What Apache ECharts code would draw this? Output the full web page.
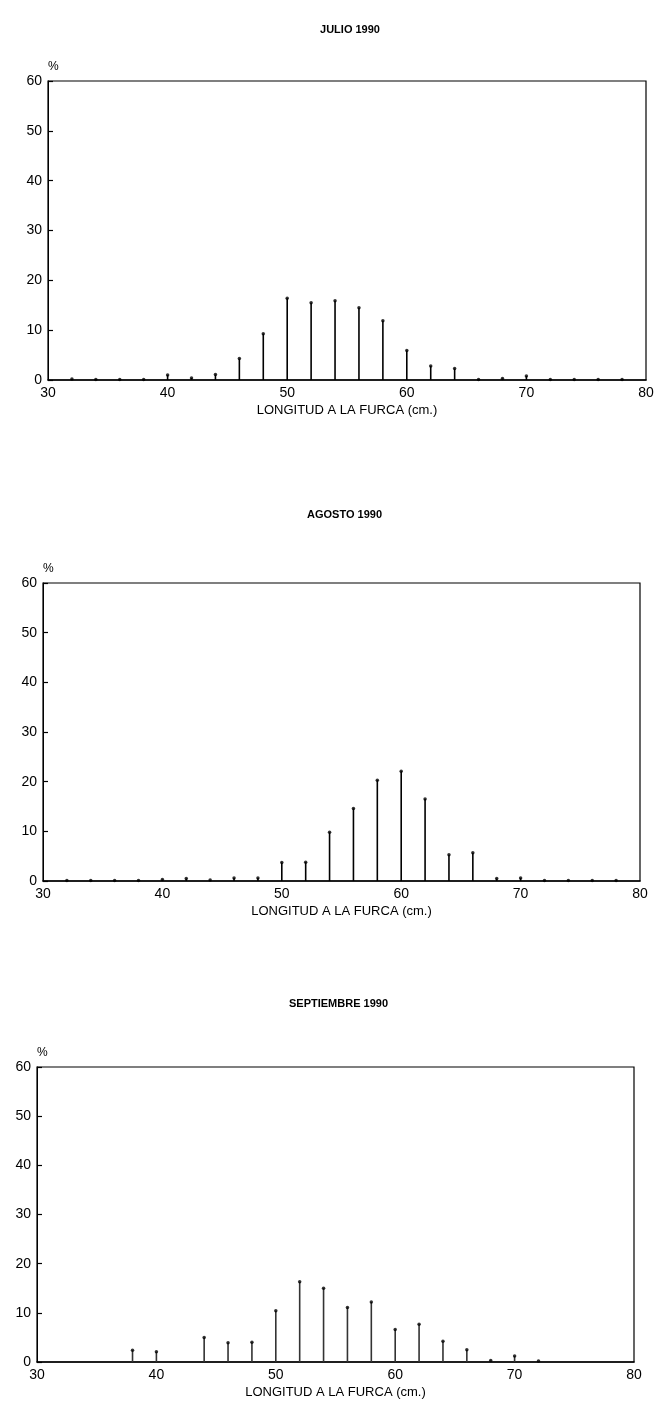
<!DOCTYPE html>
<html>
<head>
<meta charset="utf-8">
<script src="https://cdn.jsdelivr.net/npm/echarts@6/dist/echarts.min.js"></script>
<style>
html,body{margin:0;padding:0;background:#fff;}
#c{width:659px;height:1417px;}
</style>
</head>
<body>
<div id="c"></div>
<script>
const titles = ['JULIO 1990', 'AGOSTO 1990', 'SEPTIEMBRE 1990'];
const xAxisName = 'LONGITUD A LA FURCA (cm.)';
const yAxisName = '%';
const lengths = [32,34,36,38,40,42,44,46,48,50,52,54,56,58,60,62,64,66,68,70,72,74,76,78];
const julio =      [0.2,0.1,0.1,0.1,1.0,0.4,1.1,4.3,9.3,16.4,15.5,15.9,14.5,11.9,5.9,2.8,2.3,0.1,0.3,0.8,0.1,0.1,0.1,0.1];
const agosto =     [0.1,0.1,0.1,0.1,0.3,0.5,0.2,0.6,0.6,3.7,3.8,9.8,14.6,20.3,22.1,16.5,5.3,5.7,0.5,0.6,0.1,0.1,0.1,0.1];
const septiembre = [0,0,0,2.4,2.1,0,5.0,3.9,4.0,10.4,16.3,15.0,11.1,12.2,6.6,7.7,4.2,2.5,0.3,1.2,0.2,0,0,0];

const allSeries = [julio, agosto, septiembre];
const grids = [
  {left: 48, top: 81, width: 598, height: 299},
  {left: 43, top: 583, width: 597, height: 298},
  {left: 37, top: 1067, width: 597, height: 295}
];
const titleTops = [19, 504, 993];

const font = 'Liberation Sans, Arial, sans-serif';
const chart = echarts.init(document.getElementById('c'), null, {renderer: 'canvas'});

const option = {
  animation: false,
  backgroundColor: '#fff',
  title: titles.map((t, i) => ({
    text: t,
    left: grids[i].left + grids[i].width / 2 - 2,
    top: titleTops[i],
    textAlign: 'center',
    textStyle: {fontFamily: font, fontSize: 11, fontWeight: 'bold', color: '#000'}
  })),
  grid: grids.map(g => Object.assign({show: true, borderColor: '#000', borderWidth: 1.2, backgroundColor: 'transparent'}, g)),
  xAxis: grids.map((g, i) => ({
    type: 'value', gridIndex: i, min: 30, max: 80, interval: 10,
    name: xAxisName, nameLocation: 'middle', nameGap: 24,
    nameTextStyle: {fontFamily: font, fontSize: 13, color: '#000'},
    axisLine: {show: true, lineStyle: {color: '#000', width: 1.5}},
    axisTick: {show: false},
    splitLine: {show: false},
    axisLabel: {fontFamily: font, fontSize: 14, color: '#000', margin: 6}
  })),
  yAxis: grids.map((g, i) => ({
    type: 'value', gridIndex: i, min: 0, max: 60, interval: 10,
    name: yAxisName, nameLocation: 'end', nameGap: 8,
    nameTextStyle: {fontFamily: font, fontSize: 12, color: '#000', align: 'left'},
    axisLine: {show: true, lineStyle: {color: '#000', width: 1}},
    axisTick: {show: true, inside: true, length: 5, lineStyle: {color: '#000', width: 1.2}},
    splitLine: {show: false},
    axisLabel: {fontFamily: font, fontSize: 14, color: '#000', margin: 6}
  })),
  series: []
};

allSeries.forEach((vals, i) => {
  const data = lengths.map((x, k) => [x, vals[k]]);
  option.series.push({
    type: 'bar', xAxisIndex: i, yAxisIndex: i,
    data: data, barWidth: 1.6,
    itemStyle: {color: i === 2 ? '#333' : '#000'}
  });
  option.series.push({
    type: 'scatter', xAxisIndex: i, yAxisIndex: i,
    data: data.filter(d => d[1] > 0),
    symbol: 'circle', symbolSize: 3.5,
    itemStyle: {color: '#000'}
  });
});

chart.setOption(option);
</script>
</body>
</html>
